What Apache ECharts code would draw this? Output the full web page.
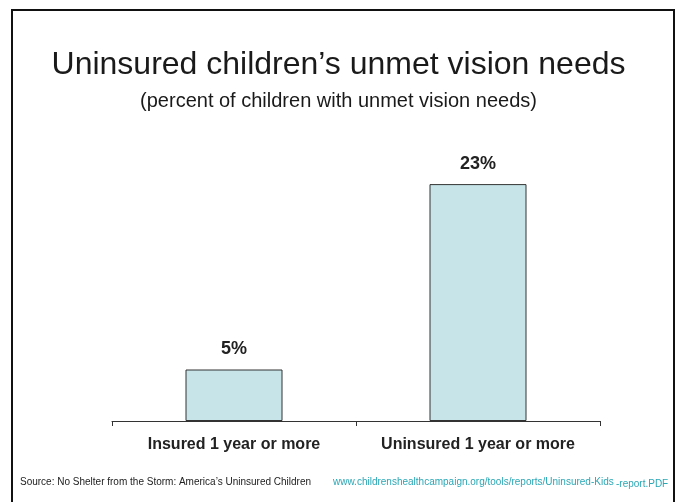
<!DOCTYPE html>
<html>
<head>
<meta charset="utf-8">
<script src="https://cdn.jsdelivr.net/npm/echarts@6/dist/echarts.min.js"></script>
<style>
  html, body { margin: 0; padding: 0; background: #fff; }
  #chart { width: 677px; height: 502px; }
</style>
</head>
<body>
<div id="chart"></div>
<script>
const categories = ['Insured 1 year or more', 'Uninsured 1 year or more'];
const unmetPercent = [5, 23];

const chart = echarts.init(document.getElementById('chart'));

const font = '"Liberation Sans", Arial, sans-serif';

chart.setOption({
    backgroundColor: '#ffffff',
    animation: false,
    textStyle: { fontFamily: font },
    title: [
        {
            text: 'Uninsured children\u2019s unmet vision needs',
            left: 'center',
            top: 44,
            textStyle: { fontSize: 32, fontWeight: 'normal', color: '#1a1a1a', fontFamily: font }
        },
        {
            text: '(percent of children with unmet vision needs)',
            left: 'center',
            top: 86,
            textStyle: { fontSize: 20, fontWeight: 'normal', color: '#1a1a1a', fontFamily: font }
        }
    ],
    grid: { left: 112, right: 77, top: 112, bottom: 81 },
    xAxis: {
        type: 'category',
        data: categories,
        axisLine: { lineStyle: { color: '#333', width: 1 } },
        axisTick: { show: true, interval: 0, length: 5, alignWithLabel: false, lineStyle: { color: '#333' } },
        axisLabel: { interval: 0, fontSize: 16, fontWeight: 'bold', color: '#222', margin: 16, fontFamily: font }
    },
    yAxis: {
        type: 'value',
        min: 0,
        max: 30,
        show: false,
        splitLine: { show: false }
    },
    series: [{
        type: 'bar',
        data: unmetPercent,
        barWidth: 97,
        itemStyle: { color: '#c7e5e9', borderColor: '#333', borderWidth: 1 },
        label: {
            show: true,
            position: 'top',
            distance: 11,
            formatter: p => p.value + '%',
            fontSize: 18,
            fontWeight: 'bold',
            color: '#222',
            fontFamily: font
        }
    }],
    graphic: [
        {
            type: 'rect',
            shape: { x: 12, y: 10, width: 662, height: 510 },
            style: { fill: 'none', stroke: '#111', lineWidth: 2 }
        },
        {
            type: 'text',
            left: 20,
            top: 477,
            style: {
                text: 'Source: No Shelter from the Storm: America\u2019s Uninsured Children',
                fontSize: 10, fill: '#222', fontFamily: font
            }
        },
        {
            type: 'text',
            left: 333,
            top: 477,
            style: {
                text: 'www.childrenshealthcampaign.org/tools/reports/Uninsured-Kids',
                fontSize: 10, fill: '#2aa7b5', fontFamily: font
            }
        },
        {
            type: 'text',
            left: 616,
            top: 479,
            style: {
                text: '-report.PDF',
                fontSize: 10, fill: '#2aa7b5', fontFamily: font
            }
        }
    ]
});
</script>
</body>
</html>
